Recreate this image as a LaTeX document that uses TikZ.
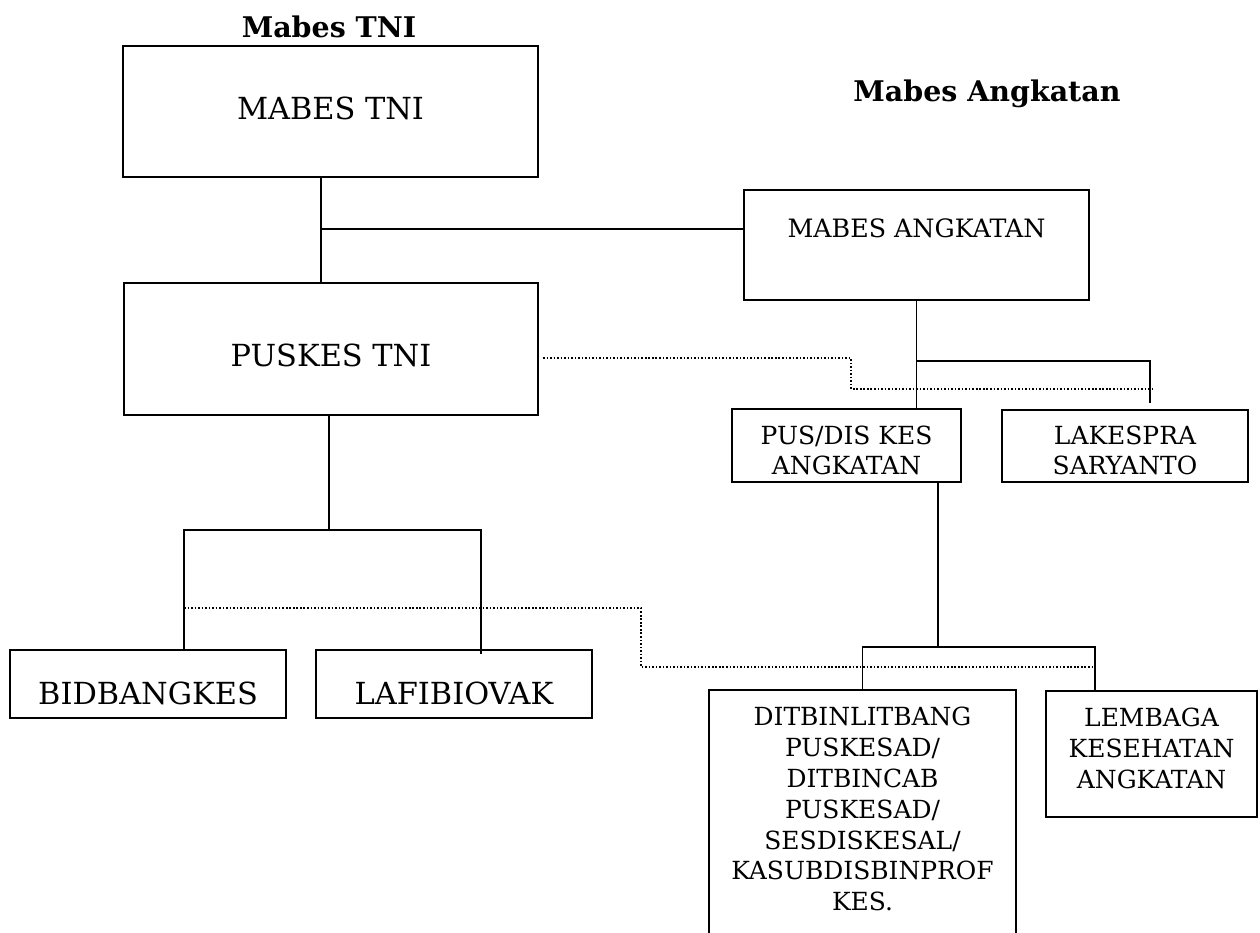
\documentclass[tikz,border=0pt]{standalone}
\usepackage{fontspec}
\setmainfont{DejaVu Serif}
\usetikzlibrary{calc}

\tikzset{
  unit/.style={draw, line width=0.9pt, inner sep=0pt, align=center},
  conn/.style={line width=0.8pt},
  dots/.style={line width=0.9pt, dash pattern=on 0.9pt off 1.1pt},
  bigtxt/.style={font=\fontsize{17.3}{21}\selectfont},
  midtxt/.style={font=\fontsize{14.4}{18}\selectfont},
  smalltxt/.style={font=\fontsize{14.2}{17.6}\selectfont},
  heading/.style={font=\bfseries\fontsize{16.2}{20}\selectfont}
}

\begin{document}
\begin{tikzpicture}
  \useasboundingbox (0,0) rectangle (25.2,-18.66);
  \clip (0,0) rectangle (25.2,-18.66);
  \node[heading] (ttni) at (6.58,-0.54) {Mabes TNI};
  \node[heading] (tang) at (19.74,-1.88) {Mabes Angkatan};
  \node[unit, bigtxt, minimum width=8.3cm, minimum height=2.62cm, text depth=0.14cm] (mtni) at (6.61,-2.23) {MABES TNI};
  \node[unit, bigtxt, minimum width=8.28cm, minimum height=2.64cm, text height=0.72cm] (ptni) at (6.62,-6.98) {PUSKES TNI};
  \node[unit, midtxt, minimum width=6.9cm, minimum height=2.2cm, text depth=0.68cm] (mang) at (18.33,-4.9) {MABES ANGKATAN};
  \node[unit, smalltxt, minimum width=4.58cm, minimum height=1.46cm, text height=1.18cm, text depth=0cm] (pdis) at (16.93,-8.91) {PUS/DIS KES\\ANGKATAN};
  \node[unit, smalltxt, minimum width=4.92cm, minimum height=1.44cm, text height=1.16cm, text depth=0cm] (lakes) at (22.5,-8.92) {LAKESPRA\\SARYANTO};
  \node[unit, bigtxt, minimum width=5.52cm, minimum height=1.36cm, text height=0.84cm] (bidb) at (2.96,-13.68) {BIDBANGKES};
  \node[unit, bigtxt, minimum width=5.52cm, minimum height=1.36cm, text height=0.84cm] (lafi) at (9.08,-13.68) {LAFIBIOVAK};
  \node[unit, smalltxt, draw=none, anchor=north, inner ysep=0.32cm, minimum width=6.1cm] (ditb) at (17.25,-13.8)
    {DITBINLITBANG\\PUSKESAD/\\DITBINCAB\\PUSKESAD/\\SESDISKESAL/\\KASUBDISBINPROF\\KES.};
  \node[unit, smalltxt, minimum width=4.22cm, minimum height=2.52cm, text depth=0.24cm] (lemb) at (23.03,-15.08) {LEMBAGA\\KESEHATAN\\ANGKATAN};

  \draw[line width=0.9pt] ($(ditb.north west)+(0,-6)$) -- (ditb.north west) -- (ditb.north east) -- ($(ditb.north east)+(0,-6)$);

  \coordinate (j1) at (6.42,-4.58);
  \coordinate (j2) at (6.58,-10.6);
  \coordinate (j3) at (18.34,-7.22);
  \coordinate (j4) at (18.76,-12.94);
  \draw[conn] (mtni.south -| j1) -- (ptni.north -| j1);
  \draw[conn] (j1) -- (j1 -| mang.west);
  \draw[conn] (ptni.south -| j2) -- (j2);
  \draw[conn] ($(bidb.north)+(0.72,0)$) |- (j2) -| ($(lafi.north)+(0.54,-0.1)$);
  \draw[conn] (mang.south) -- (mang.south |- pdis.north);
  \draw[conn] (j3) -| ($(lakes.north)+(0.5,0.12)$);
  \draw[conn] (pdis.south -| j4) -- (j4);
  \draw[conn] (ditb.north) |- (j4) -| ($(lemb.north)+(-1.13,0)$);

  \draw[dots] (10.86,-7.16) -- (17.02,-7.16) -- (17.02,-7.78) -- (23.1,-7.78);
  \draw[dots] (3.68,-12.16) -- (12.82,-12.16) -- (12.82,-13.34) -- (21.9,-13.34);
\end{tikzpicture}
\end{document}
